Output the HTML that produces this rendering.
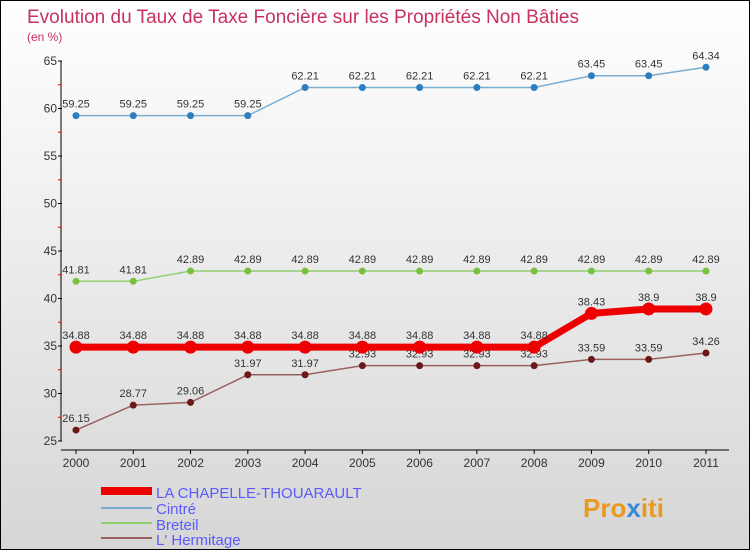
<!DOCTYPE html>
<html><head><meta charset="utf-8"><style>
body{margin:0}
#c{position:relative;width:750px;height:550px;box-sizing:border-box;border:1px solid #000;background:linear-gradient(#fff,#d6d6d6);font-family:"Liberation Sans",sans-serif;overflow:hidden}
</style></head><body>
<div id="c">
<svg width="748" height="548" style="position:absolute;left:0;top:0" id="s">
<text x="26" y="22" font-size="19" textLength="552" fill="#c8305d">Evolution du Taux de Taxe Foncière sur les Propriétés Non Bâties</text>
<text x="26" y="40" font-size="12" fill="#c8305d">(en %)</text>
<g id="axes"></g><g id="series"></g>
<g>
<rect x="100" y="486" width="51" height="8" fill="#e00"/>
<text x="155" y="497" font-size="15" fill="#5a5aff">LA CHAPELLE-THOUARAULT</text>
<rect x="100" y="506" width="51" height="2" fill="#7aaed0"/>
<text x="155" y="513" font-size="15" fill="#5a5aff">Cintré</text>
<rect x="100" y="521" width="51" height="2" fill="#90d070"/>
<text x="155" y="529" font-size="15" fill="#5a5aff">Breteil</text>
<rect x="100" y="536" width="51" height="2" fill="#9a6060"/>
<text x="155" y="544" font-size="15" fill="#5a5aff">L' Hermitage</text>
</g>
<text x="582" y="516" font-size="26" font-weight="bold" fill="#e89a20">Pro<tspan fill="#3a8ad8">x</tspan>iti</text>
</svg>
</div>
<script>
const years=[2000,2001,2002,2003,2004,2005,2006,2007,2008,2009,2010,2011];
const yTicks=[25,30,35,40,45,50,55,60,65];
const chapelle=[34.88,34.88,34.88,34.88,34.88,34.88,34.88,34.88,34.88,38.43,38.9,38.9];
const cintre=[59.25,59.25,59.25,59.25,62.21,62.21,62.21,62.21,62.21,63.45,63.45,64.34];
const breteil=[41.81,41.81,42.89,42.89,42.89,42.89,42.89,42.89,42.89,42.89,42.89,42.89];
const hermitage=[26.15,28.77,29.06,31.97,31.97,32.93,32.93,32.93,32.93,33.59,33.59,34.26];
const NS="http://www.w3.org/2000/svg";
const xS=i=>75+i*57.27;
const yS=v=>440-(v-25)*9.5;
function mk(t,a,p){const e=document.createElementNS(NS,t);for(const k in a)e.setAttribute(k,a[k]);p.appendChild(e);return e;}
const ax=document.getElementById('axes');
let l=mk('line',{x1:60,y1:yS(65),x2:60,y2:yS(25),stroke:'#000'},ax);


l=mk('line',{x1:60,y1:449,x2:728,y2:449,stroke:'#000'},ax);


yTicks.forEach((v,i)=>{
 mk('line',{x1:57,y1:yS(v),x2:61,y2:yS(v),stroke:'#000'},ax);
 if(i<yTicks.length-1)mk('line',{x1:57,y1:yS(v+2.5),x2:60,y2:yS(v+2.5),stroke:'#e00'},ax);
 const t=mk('text',{x:56,y:yS(v)+4,'font-size':12,fill:'#333','text-anchor':'end'},ax);
 t.textContent=v;
 
 
});
years.forEach((y,i)=>{
 mk('line',{x1:xS(i),y1:449,x2:xS(i),y2:453,stroke:'#000'},ax);
 const t=mk('text',{x:xS(i),y:466,'font-size':12,fill:'#333','text-anchor':'middle'},ax);
 t.textContent=y;
 
 
});
const sg=document.getElementById('series');
function draw(data,name,col,dot,w,r){
 const g=mk('g',{},sg);
 
 
 const ln=mk('polyline',{points:data.map((v,i)=>xS(i)+','+yS(v)).join(' '),fill:'none',stroke:col,'stroke-width':w},g);
 
 
 data.forEach((v,i)=>{
  const c=mk('circle',{cx:xS(i),cy:yS(v),r:r,fill:dot},g);
  
  
  const t=mk('text',{x:xS(i),y:yS(v)-8,'font-size':11,fill:'#333','text-anchor':'middle'},g);
  t.textContent=v;
  
  
 });
}
draw(cintre,'cintre','#7aaed0','#2e7ebf',1.5,3.5);
draw(breteil,'breteil','#90d070','#78c040',1.5,3.5);
draw(hermitage,'hermitage','#9a6060','#6a1818',1.5,3.5);
draw(chapelle,'chapelle','#e00','#e00',7,6.5);
</script>
</body></html>
